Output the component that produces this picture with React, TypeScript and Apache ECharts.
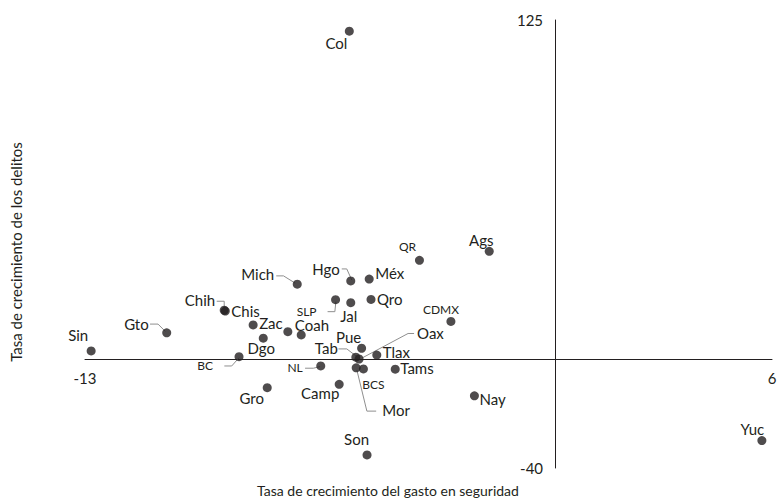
import React, { useEffect, useRef } from 'react';
import * as echarts from 'echarts';

// Mexican states: growth of security spending (x) vs growth of crime (y)
const STATES = ['Col', 'Sin', 'Gto', 'Chih', 'Chis', 'Zac', 'Dgo', 'BC', 'Coah', 'Ver', 'Mich', 'Hgo', 'Méx', 'SLP', 'Jal', 'Qro', 'QR', 'Ags', 'CDMX', 'Pue', 'Tab', 'Oax', 'Tlax', 'NL', 'Mor', 'BCS', 'Tams', 'Gro', 'Camp', 'Son', 'Nay', 'Yuc'];
const SPENDING_GROWTH = [-5.69, -12.83, -10.74, -9.15, -9.12, -8.35, -8.07, -8.74, -7.39, -7.02, -7.13, -5.65, -5.14, -6.07, -5.65, -5.09, -3.75, -1.82, -2.88, -5.35, -5.51, -5.42, -4.93, -6.48, -5.5, -5.3, -4.42, -7.96, -5.97, -5.2, -2.23, 5.72];
const CRIME_GROWTH = [120.9, 3.1, 9.8, 18.1, 17.8, 12.7, 7.8, 1.0, 10.2, 9.0, 27.7, 28.9, 29.6, 22.0, 20.9, 22.1, 36.5, 39.8, 14.0, 4.1, 0.8, 0.15, 1.6, -2.4, -3.1, -3.5, -3.6, -10.4, -9.2, -35.2, -13.4, -29.9];
const X_TICKS = [-13, 6];
const Y_TICKS = [-40, 125];
const X_TITLE = 'Tasa de crecimiento del gasto en seguridad';
const Y_TITLE = 'Tasa de crecimiento de los delitos';

const INK = '#231f20';
const LEADER = '#8f8f8f';
const FONT = 'Lato, "Open Sans", sans-serif';

const W = 777;
const H = 503;
const GRID = { left: 85, right: 5, top: 20, bottom: 35 };
const X_MIN = X_TICKS[0];
const X_MAX = X_TICKS[1];
const Y_MIN = Y_TICKS[0];
const Y_MAX = Y_TICKS[1];

type Layout = { dx: number; dy: number; align: 'left' | 'right' | 'center'; small?: boolean; leader?: number[][] };

// label placement in pixels, relative to each dot
const LABEL_LAYOUT: Record<string, Layout> = {
  Col: { dx: -2, dy: 12, align: 'right' },
  Sin: { dx: -13, dy: -16, align: 'center' },
  Gto: { dx: -18, dy: -9, align: 'right', leader: [[-16.7, -8.7], [-8.7, -8.7], [-1.5, -1.5]] },
  Chih: { dx: -9, dy: -10, align: 'right', leader: [[-7.5, -9], [0, -9], [0, -2]] },
  Chis: { dx: 6, dy: 0, align: 'left' },
  Zac: { dx: 6, dy: -2, align: 'left' },
  Dgo: { dx: -2, dy: 10, align: 'center' },
  BC: { dx: -26, dy: 9, align: 'right', small: true, leader: [[-14.7, 9.3], [-7.3, 9.3], [0, 1]] },
  Coah: { dx: 7, dy: -7, align: 'left' },
  Mich: { dx: -23, dy: -10, align: 'right', leader: [[-21, -8.3], [-13.7, -8.3], [-2, -1]] },
  Hgo: { dx: -11, dy: -12, align: 'right', leader: [[-9, -12], [-4, -12], [1, -1]] },
  'Méx': { dx: 6, dy: -6, align: 'left' },
  SLP: { dx: -19, dy: 12, align: 'right', small: true, leader: [[-8, 12], [-0.7, 12], [0.3, 2]] },
  Jal: { dx: -2, dy: 13, align: 'center' },
  Qro: { dx: 6, dy: 0, align: 'left' },
  QR: { dx: -12, dy: -14, align: 'center', small: true },
  Ags: { dx: -8, dy: -11, align: 'center' },
  CDMX: { dx: -10, dy: -12, align: 'center', small: true },
  Pue: { dx: -13, dy: -11, align: 'center' },
  Tab: { dx: -18, dy: -9, align: 'right', leader: [[-17.4, -8.3], [-9, -8.3], [1, -0.6]] },
  Oax: { dx: 58, dy: -25.7, align: 'left', leader: [[55, -25.5], [49, -25.5], [3, -1]] },
  Tlax: { dx: 6, dy: -3, align: 'left' },
  NL: { dx: -18, dy: 2, align: 'right', small: true, leader: [[-15.7, 2.3], [-7.4, 2.3], [-0.7, 0.7]] },
  Mor: { dx: 26, dy: 42, align: 'left', leader: [[0.7, 2.3], [10.7, 43.3], [20, 43.3]] },
  BCS: { dx: 10, dy: 16, align: 'center', small: true },
  Tams: { dx: 5, dy: -1, align: 'left' },
  Gro: { dx: -15.5, dy: 10, align: 'center' },
  Camp: { dx: -19, dy: 9, align: 'center' },
  Son: { dx: -10.5, dy: -16, align: 'center' },
  Nay: { dx: 5, dy: 3, align: 'left' },
  Yuc: { dx: -9.5, dy: -12, align: 'center' },
};

export default function App() {
  const ref = useRef<HTMLDivElement>(null);

  useEffect(() => {
    if (!ref.current) return;
    const chart = echarts.init(ref.current, undefined, { renderer: 'svg' });
    const points = STATES.map((_, i) => [SPENDING_GROWTH[i], CRIME_GROWTH[i]]);

    // shift the axes from the grid edges onto the zero lines
    const gridW = W - GRID.left - GRID.right;
    const gridH = H - GRID.top - GRID.bottom;
    const xAxisOffset = -gridH * (0 - Y_MIN) / (Y_MAX - Y_MIN);
    const yAxisOffset = -gridW * (0 - X_MIN) / (X_MAX - X_MIN);

    chart.setOption({
      animation: false,
      backgroundColor: '#ffffff',
      grid: { ...GRID, containLabel: false, outerBoundsMode: 'none' },
      graphic: [
        {
          type: 'text',
          x: 388,
          y: 490,
          silent: true,
          style: {
            text: X_TITLE,
            fill: INK,
            fontSize: 14,
            fontFamily: FONT,
            align: 'center',
            verticalAlign: 'middle',
            textAlign: 'center',
            textVerticalAlign: 'middle',
          },
        },
      ],
      xAxis: {
        type: 'value',
        min: X_MIN,
        max: X_MAX,
        position: 'bottom',
        offset: xAxisOffset,
        axisLine: { onZero: false, lineStyle: { color: INK, width: 1 } },
        axisTick: { show: false },
        splitLine: { show: false },
        axisLabel: { customValues: X_TICKS, fontSize: 15, color: INK, fontFamily: FONT, margin: 11 },
      },
      yAxis: {
        type: 'value',
        min: Y_MIN,
        max: Y_MAX,
        position: 'left',
        offset: yAxisOffset,
        axisLine: { onZero: false, lineStyle: { color: INK, width: 1 } },
        axisTick: { show: false },
        splitLine: { show: false },
        axisLabel: { customValues: Y_TICKS, fontSize: 15, color: INK, fontFamily: FONT, margin: 12 },
        name: Y_TITLE,
        nameLocation: 'middle',
        nameGap: 532,
        nameRotate: 90,
        nameMoveOverlap: false,
        nameTextStyle: { fontSize: 15, color: INK, fontFamily: FONT, padding: [0, 16, 0, 0] },
      },
      series: [
        {
          type: 'custom',
          z: 2,
          clip: false,
          silent: true,
          data: points,
          encode: { x: 0, y: 1 },
          renderItem: (params: any, api: any) => {
            const name = STATES[params.dataIndex];
            const cfg = LABEL_LAYOUT[name];
            if (!cfg) return { type: 'group', children: [] };
            const p = api.coord([api.value(0), api.value(1)]);
            const children: any[] = [];
            if (cfg.leader) {
              children.push({
                type: 'polyline',
                shape: { points: cfg.leader.map(([a, b]) => [p[0] + a, p[1] + b]) },
                style: { stroke: LEADER, lineWidth: 1, fill: null },
              });
            }
            children.push({
              type: 'text',
              x: p[0] + cfg.dx,
              y: p[1] + cfg.dy,
              style: {
                text: name,
                fill: INK,
                fontSize: cfg.small ? 12 : 15,
                fontFamily: FONT,
                align: cfg.align,
                verticalAlign: 'middle',
                textAlign: cfg.align,
                textVerticalAlign: 'middle',
              },
            });
            return { type: 'group', children };
          },
        },
        {
          type: 'scatter',
          z: 3,
          data: points,
          symbol: 'circle',
          symbolSize: 9,
          itemStyle: { color: INK },
        },
      ],
    });

    return () => chart.dispose();
  }, []);

  return (
    <div
      ref={ref}
      style={{ position: 'absolute', left: 0, top: 0, width: W, height: H }}
    />
  );
}
